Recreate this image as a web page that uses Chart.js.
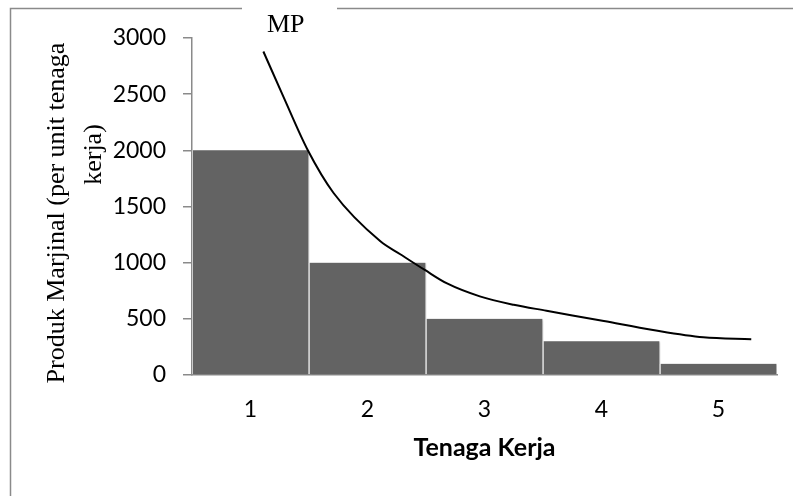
<!DOCTYPE html>
<html>
<head>
<meta charset="utf-8">
<script src="https://cdn.jsdelivr.net/npm/chart.js@4.4.1/dist/chart.umd.min.js"></script>
<style>
  html, body { margin: 0; padding: 0; background: #fff; }
  #wrap { width: 793px; height: 496px; position: relative; }
</style>
</head>
<body>
<div id="wrap"><canvas id="c" width="793" height="496"></canvas></div>
<script>
// ---- data ----
const categories = ['1', '2', '3', '4', '5'];
const barValues = [2000, 1000, 500, 300, 100];
const mpX = [1.11, 1.28, 1.49, 1.71, 2.11, 2.28, 2.49, 2.68, 2.96, 3.25, 3.53, 4.02, 4.44, 4.87, 5.28];
const mpY = [2880, 2480, 2000, 1620, 1190, 1075, 935, 815, 700, 625, 572, 480, 400, 335, 318];
const yTicks = [0, 500, 1000, 1500, 2000, 2500, 3000];
const yTitleLines = ['Produk Marjinal (per unit tenaga', 'kerja)'];
const xTitle = 'Tenaga Kerja';
const curveLabel = 'MP';

const mpPoints = mpX.map((x, i) => ({ x: x, y: mpY[i] }));
// the two title lines are not centred on the same point in the reference:
// line 1 sits a little lower, line 2 clearly higher
const SP = '\u2002';
const yTitle = [yTitleLines[0] + SP.repeat(1), SP.repeat(8) + yTitleLines[1]];

const framePlugin = {
  id: 'frame',
  beforeDraw(chart) {
    const ctx = chart.ctx;
    ctx.save();
    ctx.strokeStyle = '#8a8a8a';
    ctx.lineWidth = 1.5;
    ctx.beginPath();
    ctx.moveTo(10.5, 496);
    ctx.lineTo(10.5, 8.5);
    ctx.lineTo(242, 8.5);
    ctx.moveTo(337, 8.5);
    ctx.lineTo(793, 8.5);
    ctx.stroke();
    ctx.restore();
  },
  afterDraw(chart) {
    const ctx = chart.ctx;
    ctx.save();
    ctx.fillStyle = '#000';
    ctx.font = '26px "Liberation Serif", "Times New Roman", serif';
    ctx.textAlign = 'left';
    ctx.textBaseline = 'alphabetic';
    ctx.fillText(curveLabel, 267, 32);
    ctx.restore();
  }
};

const shadowPlugin = {
  id: 'barShadow',
  beforeDatasetDraw(chart, args) {
    if (args.index === 0) {
      const ctx = chart.ctx;
      ctx.save();
      ctx.shadowColor = 'rgba(0,0,0,0.16)';
      ctx.shadowBlur = 2;
      ctx.shadowOffsetX = 3;
      ctx.shadowOffsetY = 1;
    }
  },
  afterDatasetDraw(chart, args) {
    if (args.index === 0) chart.ctx.restore();
  }
};

new Chart(document.getElementById('c'), {
  type: 'bar',
  data: {
    labels: categories,
    datasets: [
      {
        type: 'bar',
        data: barValues,
        xAxisID: 'x',
        yAxisID: 'y',
        backgroundColor: '#636363',
        borderColor: '#ffffff',
        borderWidth: { left: 1, right: 1, top: 0, bottom: 0 },
        borderSkipped: false,
        grouped: false,
        categoryPercentage: 1.0,
        barPercentage: 1.0,
        order: 2
      },
      {
        type: 'line',
        data: mpPoints,
        xAxisID: 'x2',
        yAxisID: 'y',
        borderColor: '#000',
        borderWidth: 2,
        pointRadius: 0,
        fill: false,
        cubicInterpolationMode: 'monotone',
        order: 1
      }
    ]
  },
  options: {
    responsive: false,
    animation: false,
    devicePixelRatio: 1,
    layout: { padding: { left: 0, right: 16, top: 38, bottom: 0 } },
    plugins: {
      legend: { display: false },
      tooltip: { enabled: false },
      title: { display: false }
    },
    scales: {
      x: {
        type: 'category',
        position: 'bottom',
        z: 1,
        offset: true,
        grid: { display: false, drawTicks: false, tickLength: 0 },
        border: { display: true, color: '#8a8a8a', width: 1.5 },
        ticks: {
          color: '#000',
          padding: 21,
          font: { family: 'Lato', size: 23 }
        },
        title: {
          display: true,
          text: xTitle,
          color: '#000',
          font: { family: 'Lato', size: 25, weight: 'bold' },
          padding: { top: 0, bottom: 33 }
        },
        afterFit(s) { s.height = 121; }
      },
      x2: {
        type: 'linear',
        display: false,
        min: 0.5,
        max: 5.5,
        offset: false
      },
      y: {
        type: 'linear',
        position: 'left',
        z: 1,
        min: 0,
        max: 3000,
        afterBuildTicks(s) { s.ticks = yTicks.map(v => ({ value: v })); },
        grid: { display: true, drawOnChartArea: false, drawTicks: true, tickLength: 9, color: '#8a8a8a', lineWidth: 1.5 },
        border: { display: true, color: '#8a8a8a', width: 1.5 },
        ticks: {
          color: '#000',
          padding: 17,
          font: { family: 'Lato', size: 23 },
          callback: (v) => String(v)
        },
        title: {
          display: true,
          text: yTitle,
          color: '#000',
          font: { family: '"Liberation Serif", "Times New Roman", serif', size: 26, lineHeight: 1.45 },
          padding: { top: 38, bottom: 0 }
        },
        afterFit(s) { s.width = 192; }
      }
    }
  },
  plugins: [framePlugin, shadowPlugin]
});
</script>
</body>
</html>
